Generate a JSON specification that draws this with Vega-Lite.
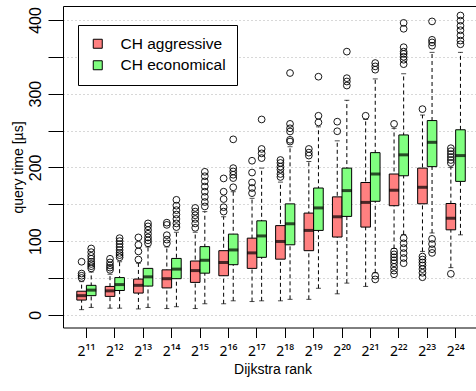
{
  "$schema": "https://vega.github.io/schema/vega-lite/v6.json",
  "width": 413,
  "height": 321.5,
  "autosize": {"type": "none"},
  "padding": {"left": 63, "top": 6, "right": 0, "bottom": 63.5},
  "background": "white",
  "config": {
    "view": {"stroke": null},
    "font": "Liberation Sans",
    "axis": {"domainColor": "black", "tickColor": "black", "labelColor": "black", "titleColor": "black", "titleFontWeight": "normal"}
  },
  "datasets": {
    "boxes": [
      {"rank": "2¹¹", "series": "CH aggressive", "lo": 7, "q1": 20, "med": 26, "q3": 32, "hi": 45},
      {"rank": "2¹¹", "series": "CH economical", "lo": 10, "q1": 26, "med": 33.5, "q3": 40, "hi": 58},
      {"rank": "2¹²", "series": "CH aggressive", "lo": 9, "q1": 25, "med": 32.5, "q3": 38.5, "hi": 55},
      {"rank": "2¹²", "series": "CH economical", "lo": 9, "q1": 33, "med": 41, "q3": 50.5, "hi": 72},
      {"rank": "2¹³", "series": "CH aggressive", "lo": 8, "q1": 29.5, "med": 40, "q3": 48.5, "hi": 70},
      {"rank": "2¹³", "series": "CH economical", "lo": 10, "q1": 39, "med": 51.5, "q3": 63, "hi": 92},
      {"rank": "2¹⁴", "series": "CH aggressive", "lo": 8.5, "q1": 36.5, "med": 49, "q3": 61, "hi": 92},
      {"rank": "2¹⁴", "series": "CH economical", "lo": 11, "q1": 49, "med": 62, "q3": 76.5, "hi": 112},
      {"rank": "2¹⁵", "series": "CH aggressive", "lo": 8.5, "q1": 44, "med": 60, "q3": 73, "hi": 112},
      {"rank": "2¹⁵", "series": "CH economical", "lo": 15, "q1": 56.5, "med": 74, "q3": 92.5, "hi": 140},
      {"rank": "2¹⁶", "series": "CH aggressive", "lo": 15, "q1": 53, "med": 71, "q3": 87, "hi": 133},
      {"rank": "2¹⁶", "series": "CH economical", "lo": 19, "q1": 68, "med": 88, "q3": 109.5, "hi": 167},
      {"rank": "2¹⁷", "series": "CH aggressive", "lo": 18, "q1": 63, "med": 84, "q3": 104, "hi": 158},
      {"rank": "2¹⁷", "series": "CH economical", "lo": 19, "q1": 78, "med": 107, "q3": 127.5, "hi": 199},
      {"rank": "2¹⁸", "series": "CH aggressive", "lo": 19, "q1": 75.5, "med": 99.5, "q3": 121, "hi": 180},
      {"rank": "2¹⁸", "series": "CH economical", "lo": 21, "q1": 95, "med": 123.5, "q3": 150.5, "hi": 228},
      {"rank": "2¹⁹", "series": "CH aggressive", "lo": 21, "q1": 87, "med": 114.5, "q3": 138, "hi": 208},
      {"rank": "2¹⁹", "series": "CH economical", "lo": 36, "q1": 114.5, "med": 145, "q3": 172, "hi": 255},
      {"rank": "2²⁰", "series": "CH aggressive", "lo": 28.5, "q1": 105.5, "med": 133, "q3": 160, "hi": 236},
      {"rank": "2²⁰", "series": "CH economical", "lo": 43, "q1": 133.5, "med": 168.5, "q3": 199, "hi": 291},
      {"rank": "2²¹", "series": "CH aggressive", "lo": 38.5, "q1": 119, "med": 152.5, "q3": 179.5, "hi": 265},
      {"rank": "2²¹", "series": "CH economical", "lo": 57, "q1": 154, "med": 191, "q3": 220, "hi": 320},
      {"rank": "2²²", "series": "CH aggressive", "lo": 90, "q1": 148, "med": 169, "q3": 191, "hi": 253},
      {"rank": "2²²", "series": "CH economical", "lo": 109, "q1": 188.6, "med": 217, "q3": 244, "hi": 327},
      {"rank": "2²³", "series": "CH aggressive", "lo": 86, "q1": 150.6, "med": 173, "q3": 199, "hi": 271},
      {"rank": "2²³", "series": "CH economical", "lo": 111, "q1": 201, "med": 234, "q3": 263.5, "hi": 356},
      {"rank": "2²⁴", "series": "CH aggressive", "lo": 64, "q1": 115.3, "med": 131, "q3": 151, "hi": 200},
      {"rank": "2²⁴", "series": "CH economical", "lo": 108.5, "q1": 181, "med": 216, "q3": 251, "hi": 356}
    ],
    "outliers": [
      {"rank": "2¹¹", "series": "CH aggressive", "v": 50}, {"rank": "2¹¹", "series": "CH aggressive", "v": 53}, {"rank": "2¹¹", "series": "CH aggressive", "v": 56}, {"rank": "2¹¹", "series": "CH aggressive", "v": 72},
      {"rank": "2¹¹", "series": "CH economical", "v": 63}, {"rank": "2¹¹", "series": "CH economical", "v": 66}, {"rank": "2¹¹", "series": "CH economical", "v": 69}, {"rank": "2¹¹", "series": "CH economical", "v": 72}, {"rank": "2¹¹", "series": "CH economical", "v": 76}, {"rank": "2¹¹", "series": "CH economical", "v": 80}, {"rank": "2¹¹", "series": "CH economical", "v": 85}, {"rank": "2¹¹", "series": "CH economical", "v": 90},
      {"rank": "2¹²", "series": "CH aggressive", "v": 61}, {"rank": "2¹²", "series": "CH aggressive", "v": 64}, {"rank": "2¹²", "series": "CH aggressive", "v": 67}, {"rank": "2¹²", "series": "CH aggressive", "v": 71}, {"rank": "2¹²", "series": "CH aggressive", "v": 76},
      {"rank": "2¹²", "series": "CH economical", "v": 78}, {"rank": "2¹²", "series": "CH economical", "v": 81}, {"rank": "2¹²", "series": "CH economical", "v": 84}, {"rank": "2¹²", "series": "CH economical", "v": 88}, {"rank": "2¹²", "series": "CH economical", "v": 92}, {"rank": "2¹²", "series": "CH economical", "v": 96}, {"rank": "2¹²", "series": "CH economical", "v": 100}, {"rank": "2¹²", "series": "CH economical", "v": 104},
      {"rank": "2¹³", "series": "CH aggressive", "v": 75}, {"rank": "2¹³", "series": "CH aggressive", "v": 86}, {"rank": "2¹³", "series": "CH aggressive", "v": 95}, {"rank": "2¹³", "series": "CH aggressive", "v": 105},
      {"rank": "2¹³", "series": "CH economical", "v": 97}, {"rank": "2¹³", "series": "CH economical", "v": 101}, {"rank": "2¹³", "series": "CH economical", "v": 105}, {"rank": "2¹³", "series": "CH economical", "v": 110}, {"rank": "2¹³", "series": "CH economical", "v": 115}, {"rank": "2¹³", "series": "CH economical", "v": 120}, {"rank": "2¹³", "series": "CH economical", "v": 124},
      {"rank": "2¹⁴", "series": "CH aggressive", "v": 97}, {"rank": "2¹⁴", "series": "CH aggressive", "v": 102}, {"rank": "2¹⁴", "series": "CH aggressive", "v": 108}, {"rank": "2¹⁴", "series": "CH aggressive", "v": 122}, {"rank": "2¹⁴", "series": "CH aggressive", "v": 125},
      {"rank": "2¹⁴", "series": "CH economical", "v": 119}, {"rank": "2¹⁴", "series": "CH economical", "v": 124}, {"rank": "2¹⁴", "series": "CH economical", "v": 130}, {"rank": "2¹⁴", "series": "CH economical", "v": 136}, {"rank": "2¹⁴", "series": "CH economical", "v": 142}, {"rank": "2¹⁴", "series": "CH economical", "v": 148}, {"rank": "2¹⁴", "series": "CH economical", "v": 156},
      {"rank": "2¹⁵", "series": "CH aggressive", "v": 118}, {"rank": "2¹⁵", "series": "CH aggressive", "v": 124}, {"rank": "2¹⁵", "series": "CH aggressive", "v": 130}, {"rank": "2¹⁵", "series": "CH aggressive", "v": 135}, {"rank": "2¹⁵", "series": "CH aggressive", "v": 140}, {"rank": "2¹⁵", "series": "CH aggressive", "v": 145},
      {"rank": "2¹⁵", "series": "CH economical", "v": 147}, {"rank": "2¹⁵", "series": "CH economical", "v": 153}, {"rank": "2¹⁵", "series": "CH economical", "v": 160}, {"rank": "2¹⁵", "series": "CH economical", "v": 167}, {"rank": "2¹⁵", "series": "CH economical", "v": 174}, {"rank": "2¹⁵", "series": "CH economical", "v": 181}, {"rank": "2¹⁵", "series": "CH economical", "v": 188}, {"rank": "2¹⁵", "series": "CH economical", "v": 194},
      {"rank": "2¹⁶", "series": "CH aggressive", "v": 140}, {"rank": "2¹⁶", "series": "CH aggressive", "v": 146}, {"rank": "2¹⁶", "series": "CH aggressive", "v": 157}, {"rank": "2¹⁶", "series": "CH aggressive", "v": 167}, {"rank": "2¹⁶", "series": "CH aggressive", "v": 185},
      {"rank": "2¹⁶", "series": "CH economical", "v": 173}, {"rank": "2¹⁶", "series": "CH economical", "v": 185.5}, {"rank": "2¹⁶", "series": "CH economical", "v": 190}, {"rank": "2¹⁶", "series": "CH economical", "v": 194.5}, {"rank": "2¹⁶", "series": "CH economical", "v": 199}, {"rank": "2¹⁶", "series": "CH economical", "v": 238},
      {"rank": "2¹⁷", "series": "CH aggressive", "v": 165}, {"rank": "2¹⁷", "series": "CH aggressive", "v": 172}, {"rank": "2¹⁷", "series": "CH aggressive", "v": 179.5}, {"rank": "2¹⁷", "series": "CH aggressive", "v": 193}, {"rank": "2¹⁷", "series": "CH aggressive", "v": 209},
      {"rank": "2¹⁷", "series": "CH economical", "v": 212.6}, {"rank": "2¹⁷", "series": "CH economical", "v": 219}, {"rank": "2¹⁷", "series": "CH economical", "v": 225}, {"rank": "2¹⁷", "series": "CH economical", "v": 265},
      {"rank": "2¹⁸", "series": "CH aggressive", "v": 187}, {"rank": "2¹⁸", "series": "CH aggressive", "v": 191}, {"rank": "2¹⁸", "series": "CH aggressive", "v": 197}, {"rank": "2¹⁸", "series": "CH aggressive", "v": 201}, {"rank": "2¹⁸", "series": "CH aggressive", "v": 206}, {"rank": "2¹⁸", "series": "CH aggressive", "v": 210},
      {"rank": "2¹⁸", "series": "CH economical", "v": 235}, {"rank": "2¹⁸", "series": "CH economical", "v": 237.4}, {"rank": "2¹⁸", "series": "CH economical", "v": 248.7}, {"rank": "2¹⁸", "series": "CH economical", "v": 253}, {"rank": "2¹⁸", "series": "CH economical", "v": 259}, {"rank": "2¹⁸", "series": "CH economical", "v": 328},
      {"rank": "2¹⁹", "series": "CH aggressive", "v": 216}, {"rank": "2¹⁹", "series": "CH aggressive", "v": 220}, {"rank": "2¹⁹", "series": "CH aggressive", "v": 225},
      {"rank": "2¹⁹", "series": "CH economical", "v": 261}, {"rank": "2¹⁹", "series": "CH economical", "v": 270}, {"rank": "2¹⁹", "series": "CH economical", "v": 323},
      {"rank": "2²⁰", "series": "CH aggressive", "v": 249}, {"rank": "2²⁰", "series": "CH aggressive", "v": 262},
      {"rank": "2²⁰", "series": "CH economical", "v": 311}, {"rank": "2²⁰", "series": "CH economical", "v": 316.5}, {"rank": "2²⁰", "series": "CH economical", "v": 321}, {"rank": "2²⁰", "series": "CH economical", "v": 357},
      {"rank": "2²¹", "series": "CH aggressive", "v": 270},
      {"rank": "2²¹", "series": "CH economical", "v": 48}, {"rank": "2²¹", "series": "CH economical", "v": 53}, {"rank": "2²¹", "series": "CH economical", "v": 332.5}, {"rank": "2²¹", "series": "CH economical", "v": 337}, {"rank": "2²¹", "series": "CH economical", "v": 341.5},
      {"rank": "2²²", "series": "CH aggressive", "v": 55}, {"rank": "2²²", "series": "CH aggressive", "v": 60}, {"rank": "2²²", "series": "CH aggressive", "v": 65}, {"rank": "2²²", "series": "CH aggressive", "v": 70}, {"rank": "2²²", "series": "CH aggressive", "v": 74}, {"rank": "2²²", "series": "CH aggressive", "v": 78}, {"rank": "2²²", "series": "CH aggressive", "v": 82}, {"rank": "2²²", "series": "CH aggressive", "v": 86}, {"rank": "2²²", "series": "CH aggressive", "v": 259},
      {"rank": "2²²", "series": "CH economical", "v": 70}, {"rank": "2²²", "series": "CH economical", "v": 77}, {"rank": "2²²", "series": "CH economical", "v": 83.7}, {"rank": "2²²", "series": "CH economical", "v": 90.5}, {"rank": "2²²", "series": "CH economical", "v": 97}, {"rank": "2²²", "series": "CH economical", "v": 104}, {"rank": "2²²", "series": "CH economical", "v": 340}, {"rank": "2²²", "series": "CH economical", "v": 346}, {"rank": "2²²", "series": "CH economical", "v": 350}, {"rank": "2²²", "series": "CH economical", "v": 354}, {"rank": "2²²", "series": "CH economical", "v": 357}, {"rank": "2²²", "series": "CH economical", "v": 363}, {"rank": "2²²", "series": "CH economical", "v": 388}, {"rank": "2²²", "series": "CH economical", "v": 396},
      {"rank": "2²³", "series": "CH aggressive", "v": 51}, {"rank": "2²³", "series": "CH aggressive", "v": 57}, {"rank": "2²³", "series": "CH aggressive", "v": 62}, {"rank": "2²³", "series": "CH aggressive", "v": 67}, {"rank": "2²³", "series": "CH aggressive", "v": 71}, {"rank": "2²³", "series": "CH aggressive", "v": 75}, {"rank": "2²³", "series": "CH aggressive", "v": 79}, {"rank": "2²³", "series": "CH aggressive", "v": 279},
      {"rank": "2²³", "series": "CH economical", "v": 84}, {"rank": "2²³", "series": "CH economical", "v": 89}, {"rank": "2²³", "series": "CH economical", "v": 96}, {"rank": "2²³", "series": "CH economical", "v": 103}, {"rank": "2²³", "series": "CH economical", "v": 365}, {"rank": "2²³", "series": "CH economical", "v": 369.5}, {"rank": "2²³", "series": "CH economical", "v": 373}, {"rank": "2²³", "series": "CH economical", "v": 398},
      {"rank": "2²⁴", "series": "CH aggressive", "v": 55.6}, {"rank": "2²⁴", "series": "CH aggressive", "v": 206}, {"rank": "2²⁴", "series": "CH aggressive", "v": 210}, {"rank": "2²⁴", "series": "CH aggressive", "v": 214}, {"rank": "2²⁴", "series": "CH aggressive", "v": 218}, {"rank": "2²⁴", "series": "CH aggressive", "v": 222}, {"rank": "2²⁴", "series": "CH aggressive", "v": 226},
      {"rank": "2²⁴", "series": "CH economical", "v": 367}, {"rank": "2²⁴", "series": "CH economical", "v": 372}, {"rank": "2²⁴", "series": "CH economical", "v": 379}, {"rank": "2²⁴", "series": "CH economical", "v": 386}, {"rank": "2²⁴", "series": "CH economical", "v": 392}, {"rank": "2²⁴", "series": "CH economical", "v": 399}, {"rank": "2²⁴", "series": "CH economical", "v": 406}
    ]
  },
  "encoding": {
    "x": {"field": "rank", "type": "nominal", "sort": ["2¹¹","2¹²","2¹³","2¹⁴","2¹⁵","2¹⁶","2¹⁷","2¹⁸","2¹⁹","2²⁰","2²¹","2²²","2²³","2²⁴"], "scale": {"paddingInner": 0, "paddingOuter": 0.27, "align": 0.6}, "axis": null},
    "xOffset": {"field": "series", "type": "nominal", "scale": {"paddingInner": 0, "paddingOuter": 0.48}}
  },
  "layer": [
    {
      "data": {"name": "boxes"},
      "mark": {"type": "rule", "color": "black", "strokeWidth": 1, "strokeDash": [4, 3]},
      "encoding": {
        "x": {"field": "rank", "type": "nominal", "sort": ["2¹¹","2¹²","2¹³","2¹⁴","2¹⁵","2¹⁶","2¹⁷","2¹⁸","2¹⁹","2²⁰","2²¹","2²²","2²³","2²⁴"], "scale": {"paddingInner": 0, "paddingOuter": 0.27, "align": 0.6}, "axis": {"orient": "top", "labels": false, "ticks": false, "title": null, "domain": true, "grid": false}},
        "y": {"field": "lo", "type": "quantitative", "title": "query time [µs]", "scale": {"domain": [-17.2, 418.9], "nice": false, "zero": false},
          "axis": {"values": [0, 50, 100, 150, 200, 250, 300, 350, 400], "labelExpr": "datum.value % 100 == 0 ? datum.label : ''", "labelAngle": -90, "labelAlign": "center", "labelBaseline": "alphabetic", "labelPadding": 8, "labelFontSize": 16, "tickSize": 15, "grid": true, "gridDash": [1, 3], "gridColor": "#b0b0b0", "titleFontSize": 14, "titleAngle": -90, "titleBaseline": "alphabetic", "titleAlign": "center", "titleX": -41, "titleY": 161}},
        "y2": {"field": "hi"}
      }
    },
    {
      "data": {"name": "boxes"},
      "mark": {"type": "tick", "color": "black", "size": 5, "thickness": 1},
      "encoding": {"y": {"field": "lo", "type": "quantitative", "title": "query time [µs]"}}
    },
    {
      "data": {"name": "boxes"},
      "mark": {"type": "tick", "color": "black", "size": 5, "thickness": 1},
      "encoding": {"y": {"field": "hi", "type": "quantitative", "title": "query time [µs]"}}
    },
    {
      "data": {"name": "boxes"},
      "mark": {"type": "bar", "stroke": "black", "strokeWidth": 1, "opacity": 1},
      "encoding": {
        "x": {"field": "rank", "type": "nominal", "sort": ["2¹¹","2¹²","2¹³","2¹⁴","2¹⁵","2¹⁶","2¹⁷","2¹⁸","2¹⁹","2²⁰","2²¹","2²²","2²³","2²⁴"], "scale": {"paddingInner": 0, "paddingOuter": 0.27, "align": 0.6}, "axis": {"orient": "bottom", "labelAngle": 0, "labelFont": "Noto Sans", "labelFontSize": 14, "labelPadding": 7, "tickSize": 10, "grid": false, "title": "Dijkstra rank", "titleFontSize": 14, "titleBaseline": "alphabetic", "titleX": 209.5, "titleY": 46}},
        "y": {"field": "q1", "type": "quantitative", "title": "query time [µs]"},
        "y2": {"field": "q3"},
        "fill": {"field": "series", "type": "nominal", "scale": {"domain": ["CH aggressive", "CH economical"], "range": ["#ff8080", "#80ff80"]},
          "legend": {"title": null, "orient": "none", "legendX": 15, "legendY": 19, "padding": 11, "symbolOffset": 1, "labelOffset": 15, "labelFontSize": 15.5, "rowPadding": 4.5, "strokeColor": "black", "fillColor": "white", "symbolType": "square", "symbolSize": 81, "symbolStrokeColor": "black", "symbolStrokeWidth": 1, "labelColor": "black"}}
      }
    },
    {
      "data": {"name": "boxes"},
      "mark": {"type": "tick", "color": "black", "size": 10, "thickness": 3},
      "encoding": {"y": {"field": "med", "type": "quantitative", "title": "query time [µs]"}}
    },
    {
      "data": {"name": "outliers"},
      "mark": {"type": "point", "shape": "circle", "filled": false, "stroke": "black", "strokeWidth": 0.9, "size": 46, "opacity": 1},
      "encoding": {"y": {"field": "v", "type": "quantitative", "title": "query time [µs]"}}
    }
  ],
  "resolve": {"axis": {"x": "independent"}}
}
